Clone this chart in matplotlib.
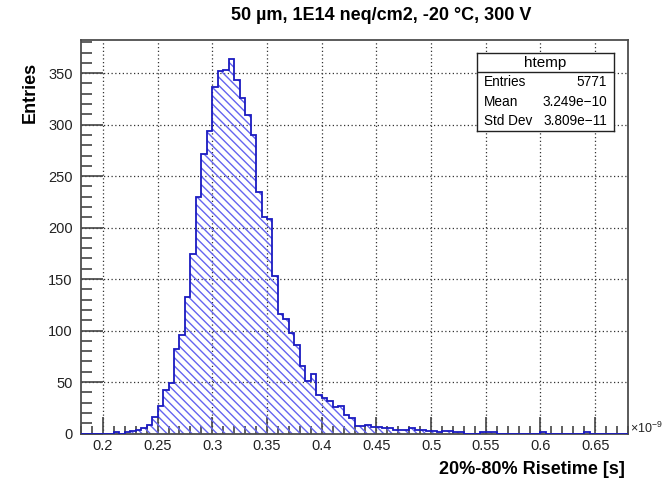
import numpy as np
import matplotlib
matplotlib.use("Agg")
import matplotlib.pyplot as plt
from matplotlib.ticker import MultipleLocator

plt.rcParams['font.family'] = ['Liberation Sans', 'DejaVu Sans']
plt.rcParams['mathtext.fontset'] = 'custom'
plt.rcParams['mathtext.rm'] = 'Liberation Sans'
plt.rcParams['mathtext.it'] = 'Liberation Sans:italic'
plt.rcParams['hatch.linewidth'] = 1.0

# histogram binning (units of 1e-9 s) and bin contents
X_MIN, X_MAX, N_BINS = 0.18, 0.68, 100
counts = [0, 0, 0, 0, 0, 0, 1, 0, 1, 2,
          3, 5, 8, 16, 27, 42, 49, 82, 96, 133,
          174, 230, 271, 294, 337, 352, 353, 364, 343, 326,
          309, 290, 235, 210, 208, 153, 116, 111, 98, 86,
          66, 51, 58, 37, 34, 32, 26, 27, 18, 15,
          7, 7, 8, 6, 6, 5, 5, 3, 3, 3,
          5, 3, 3, 2, 2, 1, 2, 2, 1, 1,
          0, 0, 0, 1, 1, 1, 0, 0, 0, 0,
          0, 0, 0, 0, 1, 0, 0, 0, 0, 0,
          0, 0, 1, 0, 0, 0, 0, 0, 0, 0]

title = '50 µm, 1E14 neq/cm2, -20 °C, 300 V'
stats_name = 'htemp'
stats_rows = [('Entries', '5771'), ('Mean', '3.249e\u221210'), ('Std Dev', '3.809e\u221211')]

W, H = 664, 483
fig = plt.figure(figsize=(W / 100, H / 100), dpi=100)
ax = fig.add_axes([81 / W, 1 - 433.5 / H, (628 - 81) / W, (433.5 - 40) / H])

edges = np.linspace(X_MIN, X_MAX, N_BINS + 1)
ax.stairs(counts, edges, fill=True, facecolor='none', edgecolor='#6464f0',
          linewidth=0, hatch='\\\\\\\\', zorder=2)
ax.stairs(counts, edges, color='#1a1ac0', linewidth=1.3, zorder=3)

ax.set_xlim(X_MIN, X_MAX)
ax.set_ylim(0, max(counts) * 1.05)

ax.xaxis.set_major_locator(MultipleLocator(0.05))
ax.xaxis.set_minor_locator(MultipleLocator(0.01))
ax.yaxis.set_major_locator(MultipleLocator(50))
ax.yaxis.set_minor_locator(MultipleLocator(10))
ax.xaxis.set_major_formatter(plt.FuncFormatter(lambda v, p: f'{v:g}'))

ax.tick_params(axis='x', which='major', direction='in', length=12, width=1.2,
               color='#444444', labelsize=10.5, labelcolor='#222222', pad=4)
ax.tick_params(axis='x', which='minor', direction='in', length=6, width=1.2, color='#444444')
ax.tick_params(axis='y', which='major', direction='in', length=16, width=1.2,
               color='#444444', labelsize=10.5, labelcolor='#222222', pad=6)
ax.tick_params(axis='y', which='minor', direction='in', length=8, width=1.2, color='#444444')

for s in ax.spines.values():
    s.set_color('#4d4d4d')
    s.set_linewidth(1.3)

ax.grid(True, which='major', color='#333333', linestyle=(0, (1, 2)), linewidth=0.9)
ax.set_axisbelow(True)

fig.text(381 / W, 1 - 16 / H, title, ha='center', va='center',
         fontsize=13, fontweight='bold')
fig.text(625 / W, 1 - 469 / H, '20%-80% Risetime [s]', ha='right', va='center',
         fontsize=13, fontweight='bold')
fig.text(30 / W, 1 - 62 / H, 'Entries', ha='center', va='top', rotation=90,
         fontsize=13, fontweight='bold')
fig.text(630 / W, 1 - 428 / H, r'$\times10^{-9}$', ha='left', va='center',
         fontsize=9, color='#222222')

# stats box
bx0, bx1, by0, by1 = 477, 614, 53, 131
sax = fig.add_axes([bx0 / W, 1 - by1 / H, (bx1 - bx0) / W, (by1 - by0) / H])
sax.set_xlim(0, 1)
sax.set_ylim(0, 1)
sax.set_xticks([])
sax.set_yticks([])
sax.set_facecolor('white')
for s in sax.spines.values():
    s.set_color('#222222')
    s.set_linewidth(1.0)
div = (by1 - 72) / (by1 - by0)
sax.axhline(div, color='#222222', linewidth=1.0)
sax.text(0.5, (div + 1) / 2, stats_name, ha='center', va='center', fontsize=11)
row_h = div / len(stats_rows)
for i, (name, val) in enumerate(stats_rows):
    yc = div - row_h * (i + 0.5)
    sax.text(0.05, yc, name, ha='left', va='center', fontsize=9.8)
    sax.text(0.95, yc, val, ha='right', va='center', fontsize=9.8)

fig.savefig('out.png', dpi=100)
